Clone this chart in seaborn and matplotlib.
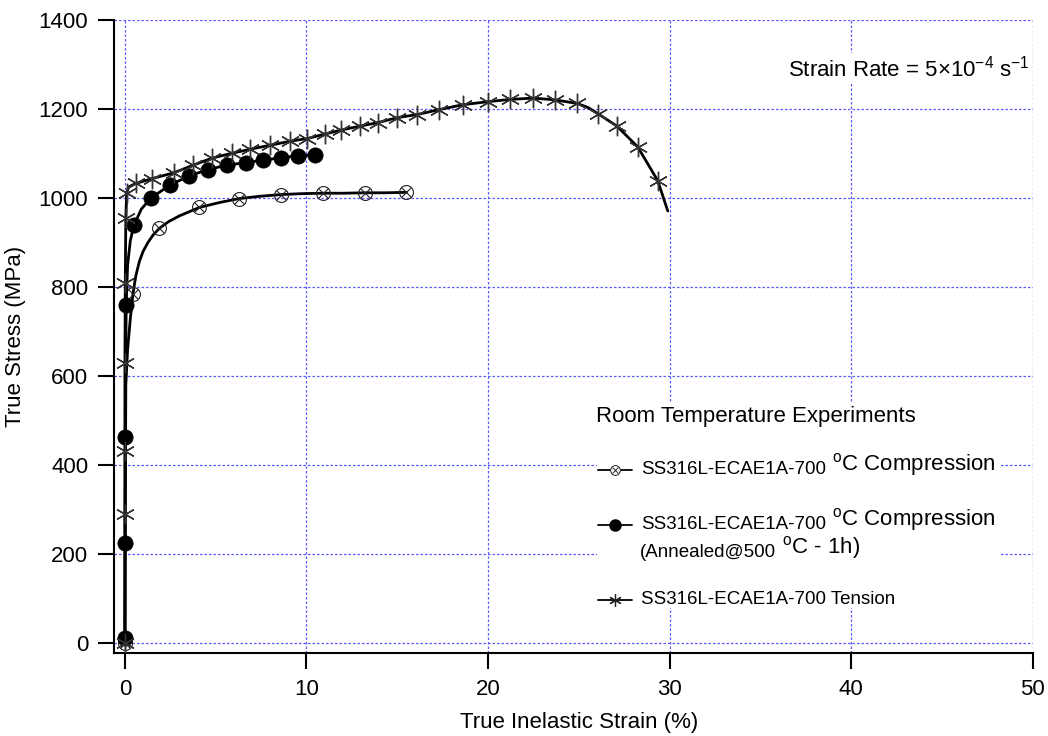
import matplotlib
matplotlib.use("Agg")
import matplotlib.pyplot as plt
import seaborn as sns
from matplotlib.lines import Line2D
from matplotlib.patches import Rectangle

# ---- data: true inelastic strain (%) vs true stress (MPa) ----
# ECAE 1A-700 compression
comp_strain = [0, 0.02, 0.05, 0.15, 0.3, 0.44, 0.6, 0.8, 1.0, 1.25, 1.55, 1.9, 2.4,
               3.0, 4.1, 5.2, 6.3, 7.4, 8.6, 9.7, 10.9, 12.0, 13.2, 14.4, 15.5]
comp_stress = [0, 300, 580, 660, 730, 784, 825, 858, 880, 899, 917, 932, 947,
               960, 979, 990, 999, 1004, 1008, 1010, 1011, 1011, 1012, 1012, 1013]
comp_marks = [0, 5, 11, 14, 16, 18, 20, 22, 24]

# ECAE 1A-700 compression, annealed 500 C / 1 h
ann_strain = [0, 0, 0.01, 0.02, 0.04, 0.07, 0.15, 0.3, 0.5, 0.9, 1.43, 2.5, 3.55,
              4.55, 5.6, 6.66, 7.6, 8.58, 9.53, 10.45, 10.8]
ann_stress = [0, 10, 225, 462, 600, 760, 850, 905, 939, 975, 1000, 1030, 1050,
              1064, 1074, 1080, 1085, 1091, 1095, 1098, 1099]
ann_marks = [1, 2, 3, 5, 8, 10, 11, 12, 13, 14, 15, 16, 17, 18, 19]

# ECAE 1A-700 tension
ten_strain = [0, 0, 0, 0, 0.02, 0.05, 0.1, 0.2, 0.6, 1.5, 2.7, 3.75, 4.8, 5.9, 6.9,
              8.0, 9.1, 10.05, 11.0, 11.9, 12.95, 13.95, 15.0, 16.1, 17.3, 18.6,
              20.0, 21.2, 22.5, 23.7, 24.9, 25.5, 26.05, 27.1, 28.25, 29.35, 29.9]
ten_stress = [0, 290, 432, 628, 808, 955, 1012, 1025, 1033, 1044, 1057, 1074, 1090,
              1101, 1110, 1119, 1128, 1134, 1144, 1153, 1162, 1170, 1181, 1188,
              1199, 1210, 1217, 1222, 1225, 1221, 1213, 1204, 1190, 1162, 1115, 1039, 971]
ten_marks = [i for i in range(len(ten_strain)) if i not in (7, 31, len(ten_strain) - 1)]

x_ticks = [0, 10, 20, 30, 40, 50]
y_ticks = [0, 200, 400, 600, 800, 1000, 1200, 1400]

# ---- style ----
sns.set_theme(style="white")
plt.rcParams["font.family"] = ["Liberation Sans", "DejaVu Sans"]
plt.rcParams["mathtext.fontset"] = "custom"
plt.rcParams["mathtext.rm"] = "Liberation Sans"
plt.rcParams["mathtext.it"] = "Liberation Sans:italic"
plt.rcParams["mathtext.bf"] = "Liberation Sans:bold"

fig = plt.figure(figsize=(10.48, 7.36), dpi=100)
ax = fig.add_axes([0.1088, 0.1124, 0.8766, 0.86])

LW = 2.0
star = (6, 2, 0)

# compression: open circle with a cross inside
sns.lineplot(x=comp_strain, y=comp_stress, estimator=None, sort=False, ax=ax,
             color="black", lw=LW, marker="o", markevery=comp_marks, ms=10,
             mfc="none", mec="#222222", mew=0.8, zorder=3)
sns.lineplot(x=[comp_strain[i] for i in comp_marks], y=[comp_stress[i] for i in comp_marks],
             estimator=None, sort=False, ax=ax, color="black", ls="none",
             marker="x", ms=6.5, mec="#222222", mew=0.8, zorder=3)

# annealed compression: filled circles
sns.lineplot(x=ann_strain, y=ann_stress, estimator=None, sort=False, ax=ax,
             color="black", lw=LW, marker="o", markevery=ann_marks, ms=11,
             mfc="black", mec="black", mew=0.5, zorder=4)

# tension: asterisks
sns.lineplot(x=ten_strain, y=ten_stress, estimator=None, sort=False, ax=ax,
             color="black", lw=LW, marker=star, markevery=ten_marks, ms=14,
             mec="#333333", mew=1.0, zorder=5)

# ---- axes ----
ax.set_xlim(-0.6, 50)
ax.set_ylim(-24, 1400)
ax.set_xticks(x_ticks)
ax.set_yticks(y_ticks)
ax.set_axisbelow(True)
ax.grid(True, color="#5b5bff", ls=(0, (2, 1.6)), lw=0.9)
for s in ("top", "right"):
    ax.spines[s].set_visible(False)
for s in ("left", "bottom"):
    ax.spines[s].set_color("black")
    ax.spines[s].set_linewidth(1.5)
ax.tick_params(axis="both", direction="out", length=11.5, width=1.5, color="black",
               labelsize=16, pad=7, labelcolor="black")
ax.tick_params(axis="x", bottom=True)
ax.tick_params(axis="y", left=True)

ax.set_xlabel("True Inelastic Strain (%)", fontsize=16, color="black")
ax.set_ylabel("True Stress (MPa)", fontsize=16, color="black")
ax.xaxis.set_label_coords(0.506, -0.092)
ax.yaxis.set_label_coords(-0.096, 0.5)

ax.text(0.997, 0.924, r"Strain Rate = 5×10$^{-4}$ s$^{-1}$", transform=ax.transAxes,
        ha="right", va="center", fontsize=16, color="black",
        bbox=dict(fc="white", ec="none", pad=1.5), zorder=6)

# ---- legend block ----
ax.add_patch(Rectangle((0.526, 0.0716), 0.44, 0.326, transform=ax.transAxes,
                       fc="white", ec="none", zorder=2))
ax.text(0.5247, 0.3738, "Room Temperature Experiments", transform=ax.transAxes,
        ha="left", va="center", fontsize=16, color="black", zorder=7)

hx0, hx1, hxm, tx = 0.527, 0.564, 0.5455, 0.574


def legend_row(y, markers, small, large=None):
    ax.add_line(Line2D([hx0, hx1], [y, y], transform=ax.transAxes, color="black",
                       lw=1.3, zorder=7))
    for m in markers:
        ax.add_line(Line2D([hxm], [y], transform=ax.transAxes, ls="none", zorder=8, **m))
    t = ax.text(tx, y, small, transform=ax.transAxes, ha="left", va="center",
                fontsize=13.5, color="black", zorder=7)
    if large:
        ax.annotate(large, xy=(1, 0), xycoords=t, ha="left", va="bottom",
                    fontsize=16, color="black", zorder=7)


legend_row(0.2896,
           [dict(marker="o", ms=7, mfc="white", mec="#222222", mew=0.7),
            dict(marker="x", ms=4.5, mec="#222222", mew=0.7)],
           "SS316L-ECAE1A-700", r" $^{\rm o}$C Compression")
legend_row(0.2027,
           [dict(marker="o", ms=8, mfc="black", mec="black")],
           "SS316L-ECAE1A-700", r" $^{\rm o}$C Compression")
t2 = ax.text(tx - 0.002, 0.1585, "(Annealed@500", transform=ax.transAxes, ha="left",
             va="center", fontsize=13.5, color="black", zorder=7)
ax.annotate(r" $^{\rm o}$C - 1h)", xy=(1, 0), xycoords=t2, ha="left", va="bottom",
            fontsize=16, color="black", zorder=7)
legend_row(0.0842,
           [dict(marker=star, ms=9, mec="#222222", mew=0.9)],
           "SS316L-ECAE1A-700 Tension")

fig.savefig("out.png", dpi=100, facecolor="white")
